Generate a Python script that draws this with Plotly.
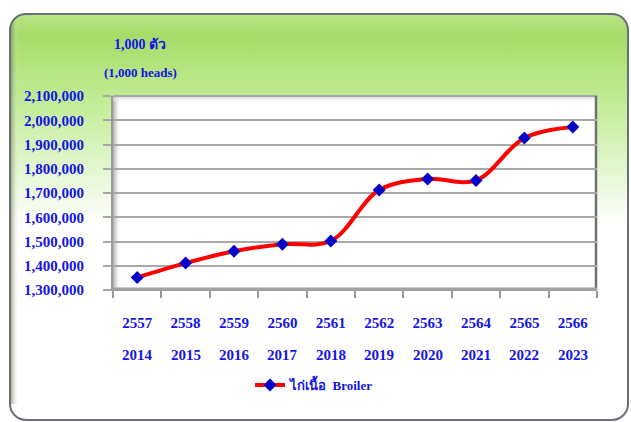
import base64
import plotly.graph_objects as go

# Broiler population, thousand heads
years_be = ["2557", "2558", "2559", "2560", "2561", "2562", "2563", "2564", "2565", "2566"]
years_ce = ["2014", "2015", "2016", "2017", "2018", "2019", "2020", "2021", "2022", "2023"]
broiler = [1352000, 1411000, 1460000, 1489000, 1502000, 1712000, 1758000, 1752000, 1927000, 1972000]

pos = list(range(len(years_be)))   # category slots on the x axis

W, H = 631, 422
PL, PR, PT, PB = 113, 597, 96, 290   # plot area edges in pixels
BLUE = "#1414E6"
FONT = "Liberation Serif"

# Background card: green-to-white rounded panel with a bevelled white plot frame
svg = f"""<svg xmlns='http://www.w3.org/2000/svg' width='{W}' height='{H}' viewBox='0 0 {W} {H}'>
<defs>
 <linearGradient id='bg' x1='0' y1='0' x2='0' y2='1'>
  <stop offset='0' stop-color='#b9e486'/>
  <stop offset='0.05' stop-color='#a6dc68'/>
  <stop offset='0.22' stop-color='#c3ec97'/>
  <stop offset='0.38' stop-color='#e2f6cf'/>
  <stop offset='0.52' stop-color='#ffffff'/>
  <stop offset='1' stop-color='#ffffff'/>
 </linearGradient>
 <linearGradient id='lw' x1='0' y1='0' x2='1' y2='0'>
  <stop offset='0' stop-color='#a9a9a9'/>
  <stop offset='1' stop-color='#ffffff' stop-opacity='0'/>
 </linearGradient>
 <linearGradient id='tw' x1='0' y1='0' x2='0' y2='1'>
  <stop offset='0' stop-color='#cfcfcf'/>
  <stop offset='1' stop-color='#ffffff' stop-opacity='0'/>
 </linearGradient>
 <linearGradient id='edge' x1='0' y1='0' x2='1' y2='0'>
  <stop offset='0' stop-color='#6a7a50' stop-opacity='0.55'/>
  <stop offset='1' stop-color='#ffffff' stop-opacity='0'/>
 </linearGradient>
</defs>
<rect x='10' y='14' width='{W-13}' height='{H-16}' rx='16' ry='16' fill='url(#bg)' stroke='#6e6e78' stroke-width='2'/>
<rect x='11' y='22' width='8' height='{H-40}' fill='url(#edge)'/>
<rect x='{PL}' y='{PT}' width='{PR-PL}' height='{PB-PT}' fill='#ffffff'/>
<rect x='{PL}' y='{PT}' width='8' height='{PB-PT}' fill='url(#lw)'/>
<rect x='{PL}' y='{PT}' width='{PR-PL}' height='7' fill='url(#tw)'/>
<line x1='{PL}' y1='{PT}' x2='{PR}' y2='{PT}' stroke='#9a9a9a' stroke-width='1.5'/>
<line x1='{PR-1}' y1='{PT}' x2='{PR-1}' y2='{PB}' stroke='#707070' stroke-width='2.5'/>
<line x1='{PL}' y1='{PB-1}' x2='{PR}' y2='{PB-1}' stroke='#a0a0a0' stroke-width='3'/>
</svg>"""
bg_uri = "data:image/svg+xml;base64," + base64.b64encode(svg.encode()).decode()

pw, ph = PR - PL, PB - PT

fig = go.Figure()
fig.add_trace(go.Scatter(
    x=pos, y=broiler, mode="lines+markers", name="ไก่เนื้อ  Broiler",
    line=dict(color="#FF0000", width=4, shape="spline", smoothing=1.0),
    marker=dict(symbol="diamond", size=10, color="#0000C8"),
))

# Second row of year labels (Gregorian years) under the Buddhist-era ticks
for p, ce in zip(pos, years_ce):
    fig.add_annotation(x=p, y=(PB - 355) / ph, xref="x", yref="paper", text=ce,
                       showarrow=False, xanchor="center", yanchor="middle",
                       font=dict(family=FONT, size=15, color=BLUE, weight="bold"))

fig.add_annotation(x=(140 - PL) / pw, y=(PB - 44) / ph, xref="paper", yref="paper",
                   text="1,000 ตัว", showarrow=False, xanchor="center", yanchor="middle",
                   font=dict(family=FONT, size=14, color=BLUE, weight="bold"))
fig.add_annotation(x=(140 - PL) / pw, y=(PB - 72) / ph, xref="paper", yref="paper",
                   text="(1,000 heads)", showarrow=False, xanchor="center", yanchor="middle",
                   font=dict(family=FONT, size=13, color=BLUE, weight="bold"))

fig.add_layout_image(dict(
    source=bg_uri, xref="paper", yref="paper",
    x=-PL / pw, y=PB / ph, sizex=W / pw, sizey=H / ph,
    xanchor="left", yanchor="top", sizing="stretch", layer="below",
))

fig.update_layout(
    width=W, height=H,
    margin=dict(l=PL, r=W - PR, t=PT, b=H - PB),
    paper_bgcolor="#ffffff", plot_bgcolor="rgba(0,0,0,0)",
    showlegend=True,
    legend=dict(orientation="h", x=(250 - PL) / pw, y=(PB - 385) / ph,
                xanchor="left", yanchor="middle", bgcolor="rgba(0,0,0,0)",
                font=dict(family=FONT, size=13, color=BLUE, weight="bold")),
    xaxis=dict(range=[-0.5, len(pos) - 0.5], tickmode="array", tickvals=pos,
               ticktext=years_be, tickangle=0, showgrid=False, zeroline=False,
               ticks="", showline=True, linecolor="#a0a0a0", linewidth=1,
               ticklabelstandoff=19,
               minor=dict(tickmode="linear", tick0=-0.5, dtick=1, ticks="outside",
                          ticklen=7, tickcolor="#9a9a9a", tickwidth=1.5, showgrid=False),
               tickfont=dict(family=FONT, size=15, color=BLUE, weight="bold")),
    yaxis=dict(range=[1300000, 2100000], dtick=100000, tickformat=",",
               showgrid=True, gridcolor="#a8a8a8", gridwidth=1.5,
               ticks="outside", ticklen=8, tickcolor="#a8a8a8", tickwidth=1.5,
               showline=True, linecolor="#9a9a9a", linewidth=2,
               zeroline=False, ticklabelstandoff=16,
               tickfont=dict(family=FONT, size=15, color=BLUE, weight="bold")),
)

fig.write_html("out.html")
